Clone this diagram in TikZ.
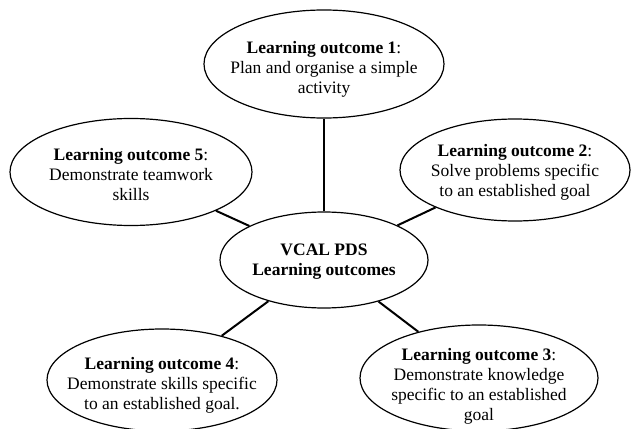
\documentclass[tikz,border=0pt]{standalone}
\usepackage{fontspec}
\setmainfont{Liberation Serif}
\usetikzlibrary{shapes.geometric}
\usetikzlibrary{positioning}

\begin{document}
\begin{tikzpicture}[x=1pt,y=-1pt,
		bulle/.style={ellipse,draw,line width=1.2pt,inner sep=0pt},
		texte/.style={font=\fontsize{17.5}{20}\selectfont},
		lien/.style={line width=2pt}]
			\useasboundingbox (0,0) rectangle (631,428);
			% description et nommage des bulles
			\node (CENTRE) at (324,260) [bulle,minimum width=208pt,minimum height=96pt] {};
			\node (LO1) at (324,64) [bulle,minimum width=240pt,minimum height=108pt] {};
			\node (LO2) at (515,170) [bulle,minimum width=230pt,minimum height=102pt] {};
			\node (LO3) at (479,378) [bulle,minimum width=238pt,minimum height=106pt] {};
			\node (LO4) at (162,380) [bulle,minimum width=230pt,minimum height=102pt] {};
			\node (LO5) at (131,172) [bulle,minimum width=242pt,minimum height=107pt] {};
			% textes des bulles
			\node (TCENTRE) at ([yshift=-1pt]CENTRE.center) [texte] {\begin{tabular}{c}\textbf{VCAL PDS}\\\textbf{Learning outcomes}\end{tabular}};
			\node (TLO1) at ([yshift=-6pt]LO1.center) [texte] {\begin{tabular}{c}\textbf{Learning outcome 1}:\\Plan and organise a simple\\activity\end{tabular}};
			\node (TLO2) at ([yshift=-2pt]LO2.center) [texte] {\begin{tabular}{c}\textbf{Learning outcome 2}:\\Solve problems specific\\to an established goal\end{tabular}};
			\node (TLO3) at ([yshift=-8pt]LO3.center) [texte] {\begin{tabular}{c}\textbf{Learning outcome 3}:\\Demonstrate knowledge\\specific to an established\\goal\end{tabular}};
			\node (TLO4) at ([yshift=-5pt]LO4.center) [texte] {\begin{tabular}{c}\textbf{Learning outcome 4}:\\Demonstrate skills specific\\to an established goal.\end{tabular}};
			\node (TLO5) at ([yshift=-4pt]LO5.center) [texte] {\begin{tabular}{c}\textbf{Learning outcome 5}:\\Demonstrate teamwork\\skills\end{tabular}};
			% description des liens
			\draw[lien] (CENTRE) -- (LO1);
			\draw[lien] (CENTRE) -- (LO2);
			\draw[lien] (CENTRE) -- (LO3);
			\draw[lien] (CENTRE) -- (LO4);
			\draw[lien] (CENTRE) -- (LO5);
		\end{tikzpicture}
\end{document}
